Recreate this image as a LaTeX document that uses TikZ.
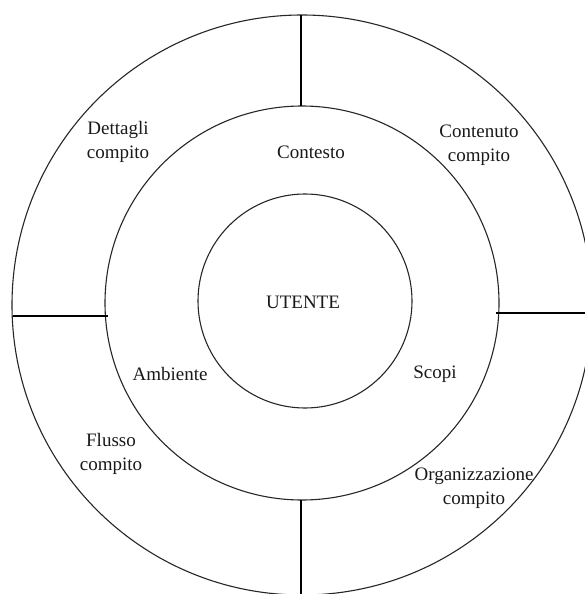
\documentclass[tikz,border=0pt]{standalone}
\usepackage{fontspec}
\setmainfont{Liberation Serif}
\begin{document}
\begin{tikzpicture}[x=1pt,y=-1pt,
  ring/.style={draw=black!85,line width=1.1pt,circle,inner sep=0pt},
  divider/.style={draw=black,line width=1.4pt},
  lbl/.style={font=\fontsize{19}{24}\selectfont,align=center,inner sep=0pt,text=black!90}]
\useasboundingbox (0,0) rectangle (585,594);
\clip (0,0) rectangle (585,594);
\node[ring,minimum size=580pt] (outer) at (302,305) {};
\node[ring,minimum size=394pt] (middle) at (302,303) {};
\node[ring,minimum size=214pt] (inner) at (305,301) {};
% dividers
\coordinate (tA) at (301,15);
\coordinate (tB) at (301,106);
\coordinate (bA) at (301,500);
\coordinate (bB) at (301,594);
\coordinate (lA) at (13,316);
\coordinate (lB) at (108,316);
\coordinate (rA) at (496,313);
\coordinate (rB) at (585,313);
\draw[divider] (tA) -- (tB);
\draw[divider] (bA) -- (bB);
\draw[divider] (lA) -- (lB);
\draw[divider] (rA) -- (rB);
% labels
\node[lbl] (utente) at (303,302) {UTENTE};
\node[lbl] (contesto) at (311,152) {Contesto};
\node[lbl] (ambiente) at (170,374) {Ambiente};
\node[lbl] (scopi) at (435,374) {Scopi};
\node[lbl] (dett) at (118,142) {Dettagli\\compito};
\node[lbl] (cont) at (479,145) {Contenuto\\compito};
\node[lbl] (fluss) at (111,454) {Flusso\\compito};
\node[lbl] (org) at (474,488) {Organizzazione\\compito};
\end{tikzpicture}
\end{document}
